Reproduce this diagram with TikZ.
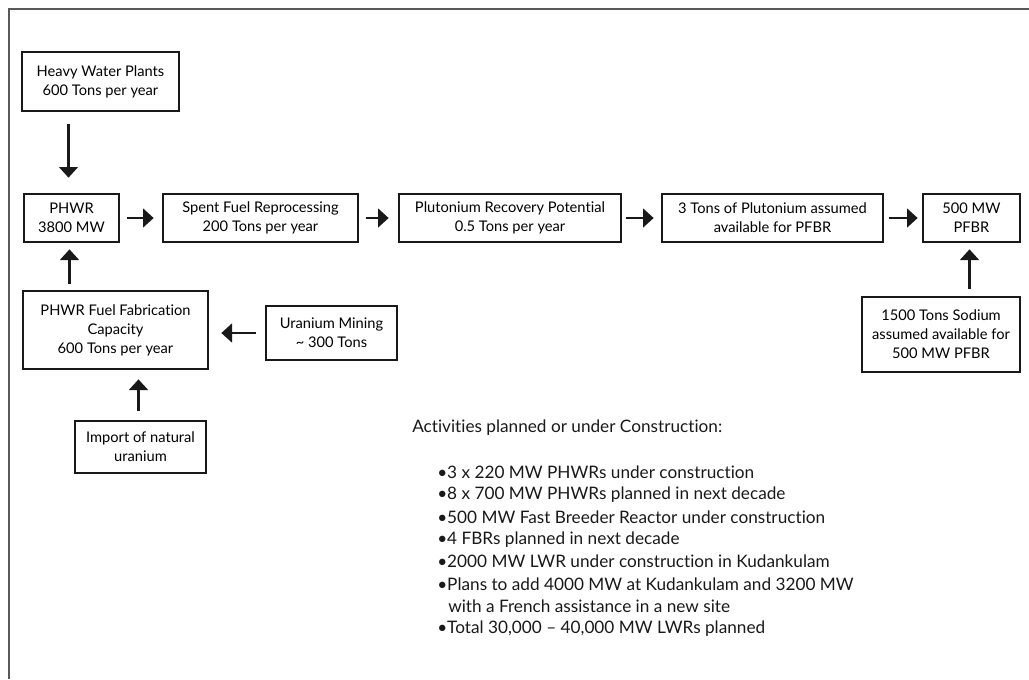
\documentclass[tikz,border=0pt]{standalone}
\usepackage{fontspec}
\setmainfont{Lato}[Ligatures=NoCommon]
\usetikzlibrary{arrows.meta}
\tikzset{
  box/.style={draw=black!90, line width=2pt, inner sep=0pt, align=center,
    font=\fontsize{11}{14.3}\selectfont},
  arr/.style={line width=2pt, draw=black!90,
    -{Triangle[length=8pt,width=14pt]}},
  txt/.style={anchor=west, inner sep=0pt, font=\fontsize{12.9}{15}\selectfont, text=black!90},
  frame/.style={draw=black!65, line width=1.5pt}
}
\begin{document}
\begin{tikzpicture}[x=0.75pt,y=-0.75pt]
\useasboundingbox (0,0) rectangle (1029,679);
\draw[frame] (9,679) -- (9,9) -- (1029,9);

\node[box, minimum width=157*0.75pt, minimum height=59*0.75pt] (hw) at (100.5,81.5) {Heavy Water Plants\\600 Tons per year};
\node[box, minimum width=95*0.75pt, minimum height=48*0.75pt] (phwr) at (71.5,218) {PHWR\\3800 MW};
\node[box, minimum width=195*0.75pt, minimum height=48*0.75pt] (spent) at (260.5,218) {Spent Fuel Reprocessing\\200 Tons per year};
\node[box, minimum width=222*0.75pt, minimum height=48*0.75pt] (plut) at (510,218) {Plutonium Recovery Potential\\0.5 Tons per year};
\node[box, minimum width=221*0.75pt, minimum height=48*0.75pt] (three) at (772.5,218) {3 Tons of Plutonium assumed\\available for PFBR};
\node[box, minimum width=97*0.75pt, minimum height=48*0.75pt] (pfbr) at (971.5,218) {500 MW\\PFBR};
\node[box, minimum width=158*0.75pt, minimum height=75*0.75pt] (sod) at (941,334.5) {1500 Tons Sodium\\assumed available for\\500 MW PFBR};
\node[box, minimum width=185*0.75pt, minimum height=78*0.75pt] (fab) at (115.5,330) {PHWR Fuel Fabrication\\Capacity\\600 Tons per year};
\node[box, minimum width=131*0.75pt, minimum height=54*0.75pt] (mine) at (331.5,333) {Uranium Mining\\\textasciitilde{} 300 Tons};
\node[box, minimum width=131*0.75pt, minimum height=52*0.75pt] (imp) at (140.5,447) {Import of natural\\uranium};

\draw[arr, shorten <=12*0.75pt, shorten >=15*0.75pt] ([xshift=-3*0.75pt]phwr.north |- hw.south) -- ([xshift=-3*0.75pt]phwr.north);
\draw[arr, shorten <=7*0.75pt, shorten >=8*0.75pt] (phwr.east) -- (spent.west);
\draw[arr, shorten <=7*0.75pt, shorten >=9*0.75pt] (spent.east) -- (plut.west);
\draw[arr, shorten <=4*0.75pt, shorten >=7*0.75pt] (plut.east) -- (three.west);
\draw[arr, shorten <=5*0.75pt, shorten >=4*0.75pt] (three.east) -- (pfbr.west);
\draw[arr, shorten <=7*0.75pt, shorten >=6*0.75pt] ([xshift=-2*0.75pt]pfbr.south |- sod.north) -- ([xshift=-2*0.75pt]pfbr.south);
\draw[arr, shorten <=6*0.75pt, shorten >=6*0.75pt] ([xshift=-2*0.75pt]phwr.south |- fab.north) -- ([xshift=-2*0.75pt]phwr.south);
\draw[arr, shorten <=9*0.75pt, shorten >=12*0.75pt] (mine.west) -- (mine.west -| fab.east);
\draw[arr, shorten <=9*0.75pt, shorten >=9*0.75pt] ([xshift=-2*0.75pt]imp.north) -- ([xshift=-2*0.75pt]imp.north |- fab.south);

\node[txt] (head) at (412,428) {Activities planned or under Construction:};
\node[txt] (b1) at (437,472) {•3 x 220 MW PHWRs under construction};
\node[txt] (b2) at (437,494.4) {•8 x 700 MW PHWRs planned in next decade};
\node[txt] (b3) at (437,516.8) {•500 MW Fast Breeder Reactor under construction};
\node[txt] (b4) at (437,539.2) {•4 FBRs planned in next decade};
\node[txt] (b5) at (437,561.6) {•2000 MW LWR under construction in Kudankulam};
\node[txt] (b6) at (437,584) {•Plans to add 4000 MW at Kudankulam and 3200 MW};
\node[txt] (b7) at (448,606.4) {with a French assistance in a new site};
\node[txt] (b8) at (437,628.8) {•Total 30,000 – 40,000 MW LWRs planned};
\end{tikzpicture}
\end{document}
